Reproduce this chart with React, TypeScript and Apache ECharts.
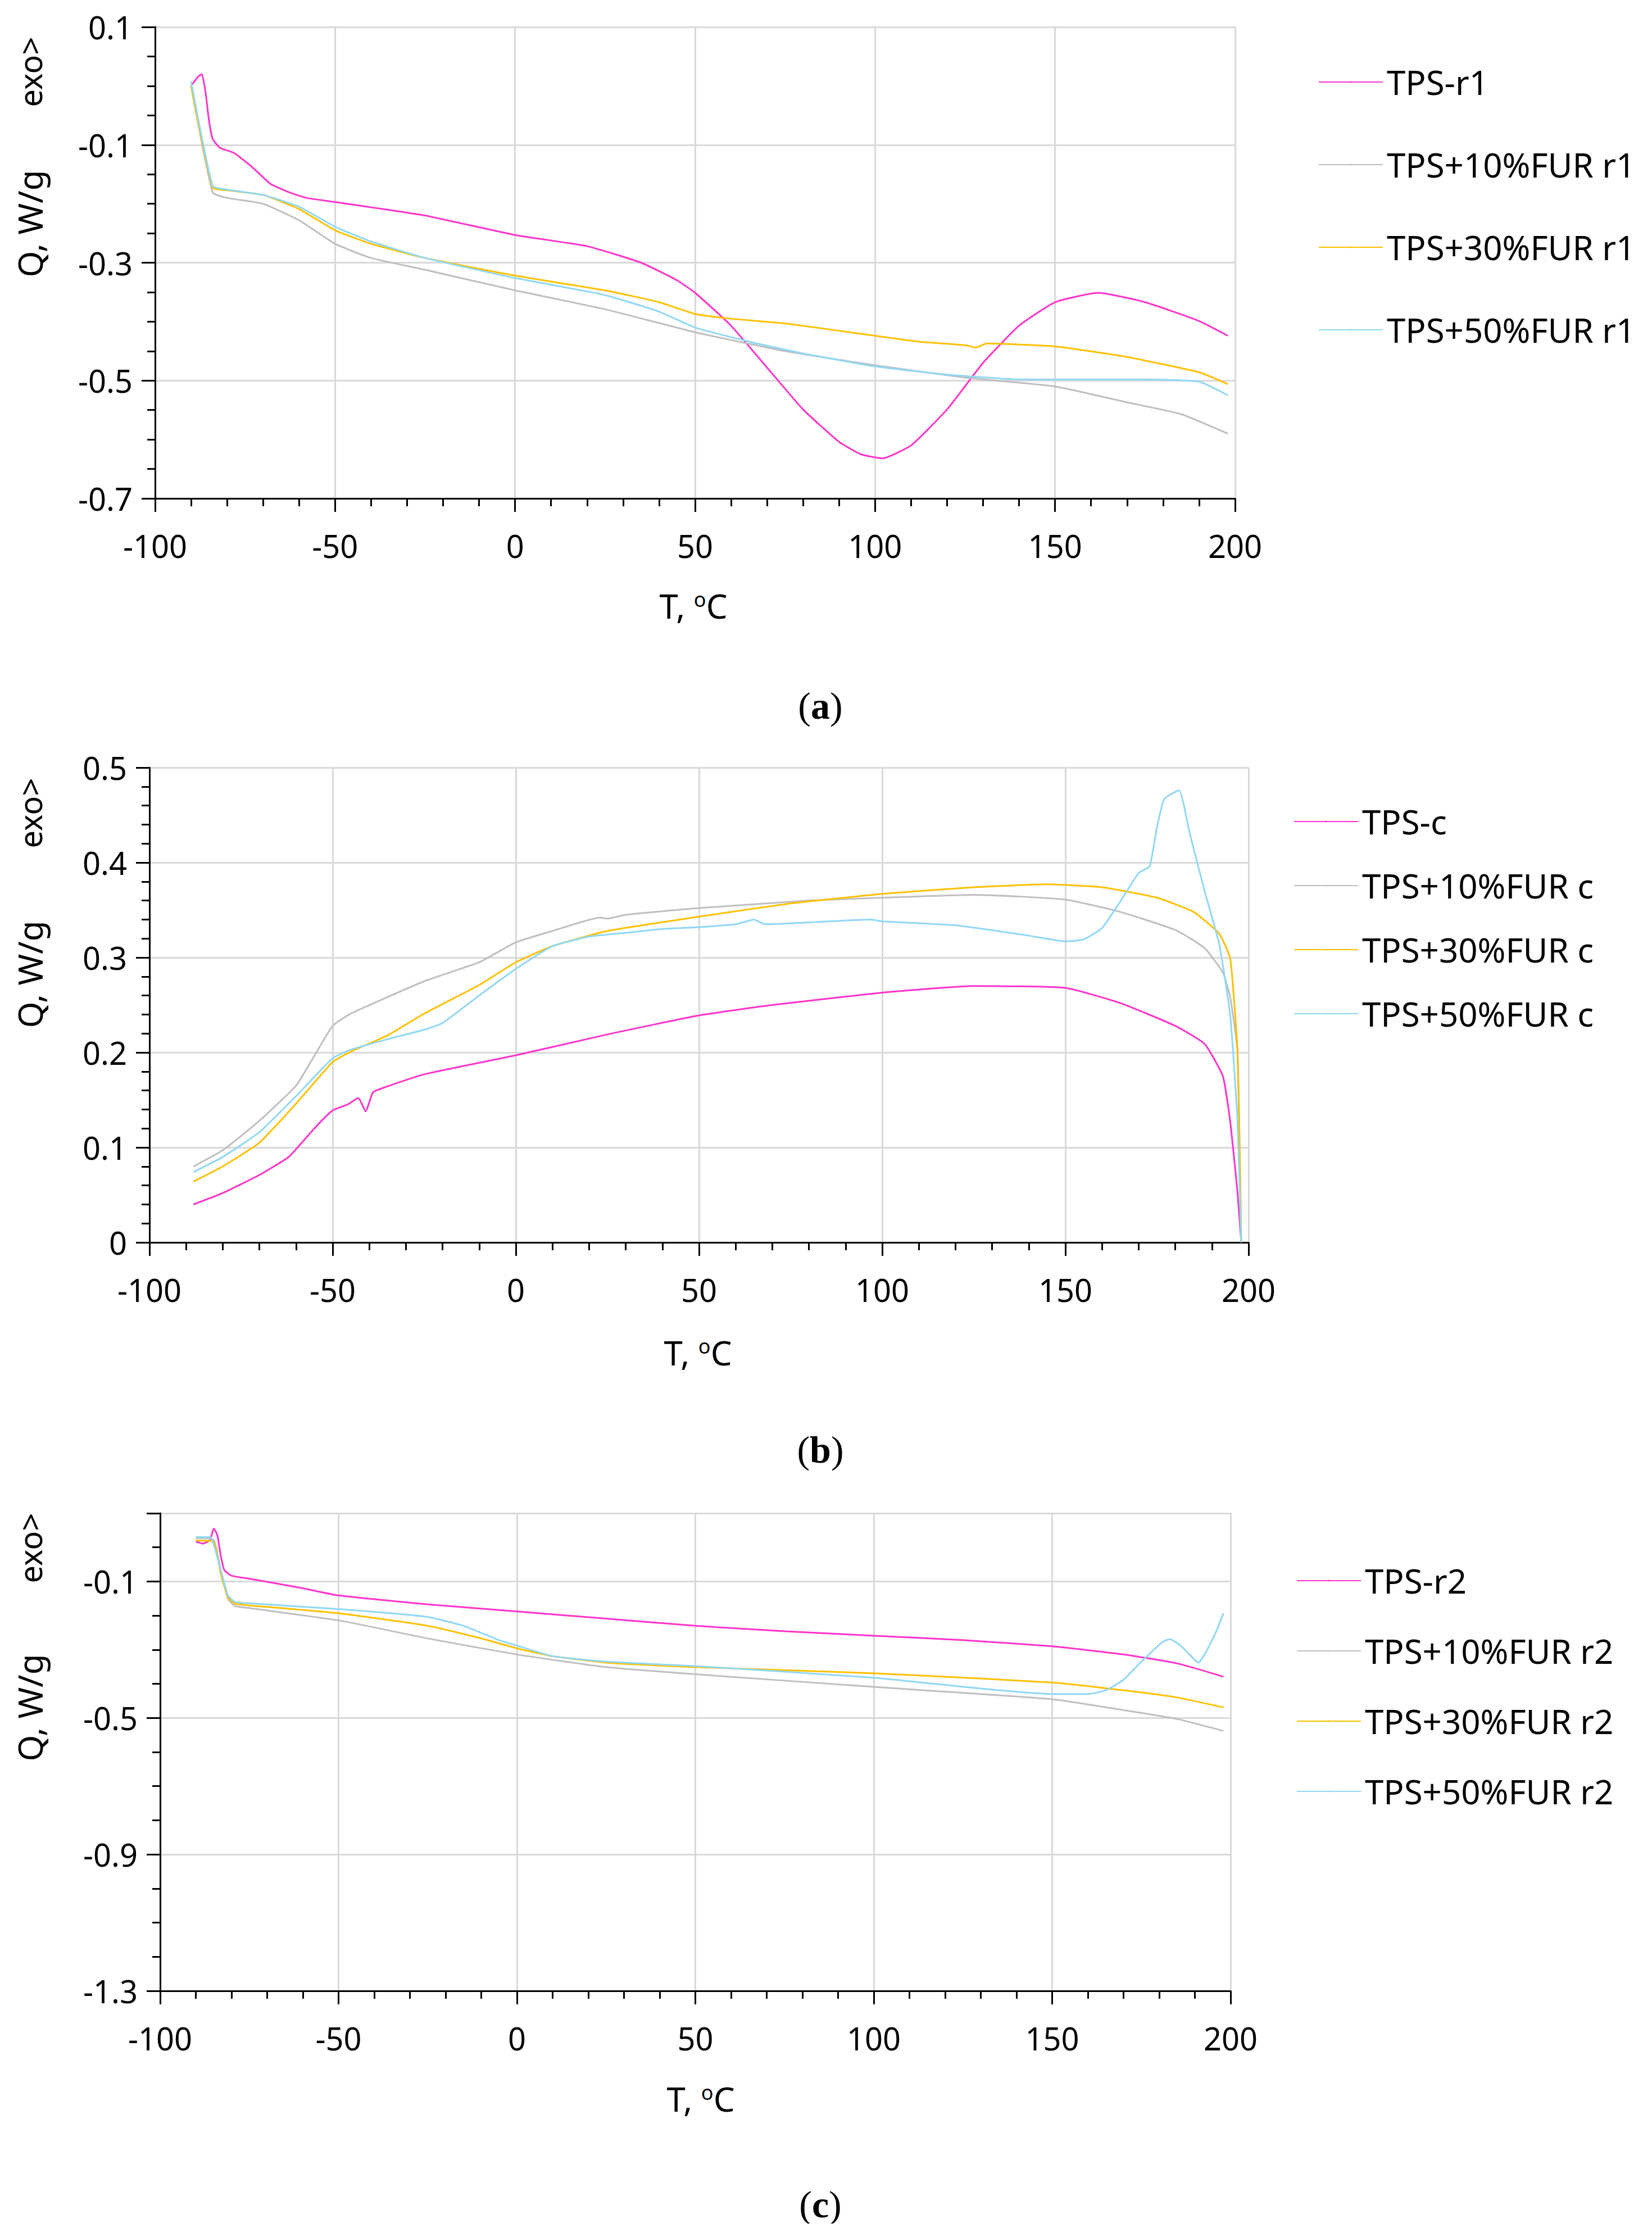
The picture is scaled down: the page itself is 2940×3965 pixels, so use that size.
import React, { useEffect, useRef } from "react";
import * as echarts from "echarts";

type Pt = [number, number];

// colours of the four samples
const COLORS = ["#ff33cc", "#bfbfbf", "#ffc000", "#8fd8f5"];

// (a) first heating
const namesA = ["TPS-r1", "TPS+10%FUR r1", "TPS+30%FUR r1", "TPS+50%FUR r1"];
const tpsR1: Pt[] = [[-90, 0.0], [-88, 0.016], [-87, 0.02], [-86, -0.01], [-85, -0.06], [-84, -0.09], [-82, -0.105], [-78, -0.114], [-73, -0.138], [-68, -0.166], [-63, -0.18], [-58, -0.19], [-50, -0.197], [-25, -0.22], [0, -0.253], [20, -0.272], [35, -0.3], [45, -0.33], [50, -0.351], [60, -0.407], [70, -0.478], [80, -0.549], [90, -0.604], [96, -0.625], [102, -0.632], [110, -0.61], [120, -0.549], [130, -0.47], [140, -0.407], [150, -0.367], [162, -0.351], [175, -0.367], [190, -0.399], [198, -0.424]];
const fur10R1: Pt[] = [[-90, 0.0], [-84, -0.181], [-80, -0.19], [-70, -0.2], [-60, -0.228], [-50, -0.268], [-40, -0.292], [-25, -0.312], [0, -0.347], [25, -0.379], [50, -0.418], [75, -0.45], [100, -0.474], [125, -0.495], [150, -0.51], [170, -0.537], [185, -0.557], [198, -0.59]];
const fur30R1: Pt[] = [[-90, 0.0], [-84, -0.173], [-80, -0.177], [-70, -0.185], [-60, -0.209], [-50, -0.245], [-40, -0.268], [-25, -0.292], [0, -0.322], [25, -0.347], [40, -0.367], [50, -0.387], [60, -0.395], [75, -0.403], [100, -0.424], [112, -0.434], [125, -0.44], [128, -0.444], [131, -0.437], [150, -0.442], [170, -0.46], [190, -0.486], [198, -0.506]];
const fur50R1: Pt[] = [[-90, 0.008], [-84, -0.17], [-80, -0.176], [-70, -0.185], [-60, -0.205], [-50, -0.239], [-40, -0.264], [-25, -0.292], [0, -0.326], [25, -0.355], [40, -0.383], [50, -0.41], [65, -0.434], [80, -0.454], [100, -0.476], [120, -0.49], [140, -0.498], [160, -0.498], [175, -0.498], [190, -0.502], [198, -0.525]];

// (b) cooling
const namesB = ["TPS-c", "TPS+10%FUR c", "TPS+30%FUR c", "TPS+50%FUR c"];
const tpsC: Pt[] = [[-88, 0.04], [-80, 0.052], [-70, 0.071], [-62, 0.09], [-55, 0.12], [-50, 0.139], [-46, 0.145], [-43, 0.152], [-41, 0.138], [-39, 0.158], [-36, 0.163], [-25, 0.177], [0, 0.197], [25, 0.219], [50, 0.239], [70, 0.25], [100, 0.263], [125, 0.27], [150, 0.268], [165, 0.252], [180, 0.228], [188, 0.209], [193, 0.175], [195, 0.127], [197, 0.052], [198, 0]];
const fur10C: Pt[] = [[-88, 0.08], [-80, 0.097], [-70, 0.128], [-60, 0.165], [-54, 0.203], [-50, 0.228], [-45, 0.241], [-25, 0.275], [-10, 0.295], [0, 0.316], [10, 0.328], [23, 0.342], [25, 0.341], [30, 0.345], [50, 0.352], [80, 0.36], [100, 0.363], [125, 0.366], [150, 0.361], [165, 0.348], [180, 0.329], [188, 0.31], [193, 0.284], [195, 0.258], [197, 0.2], [198, 0]];
const fur30C: Pt[] = [[-88, 0.064], [-80, 0.08], [-70, 0.105], [-60, 0.146], [-50, 0.19], [-45, 0.201], [-35, 0.218], [-25, 0.241], [-10, 0.271], [0, 0.295], [10, 0.312], [25, 0.328], [50, 0.343], [75, 0.357], [100, 0.367], [125, 0.374], [145, 0.377], [160, 0.374], [175, 0.363], [185, 0.348], [192, 0.325], [195, 0.299], [197, 0.2], [198, 0]];
const fur50C: Pt[] = [[-88, 0.074], [-80, 0.09], [-70, 0.116], [-60, 0.154], [-50, 0.194], [-45, 0.203], [-35, 0.214], [-25, 0.224], [-20, 0.231], [-10, 0.26], [0, 0.288], [10, 0.312], [20, 0.322], [30, 0.326], [40, 0.33], [50, 0.332], [60, 0.335], [65, 0.34], [68, 0.335], [80, 0.337], [97, 0.34], [100, 0.338], [120, 0.334], [140, 0.323], [150, 0.317], [155, 0.319], [160, 0.331], [165, 0.359], [170, 0.389], [173, 0.396], [175, 0.437], [177, 0.467], [181, 0.476], [184, 0.43], [188, 0.37], [192, 0.314], [195, 0.239], [197, 0.127], [198, 0]];

// (c) second heating
const namesC = ["TPS-r2", "TPS+10%FUR r2", "TPS+30%FUR r2", "TPS+50%FUR r2"];
const tpsR2: Pt[] = [[-90, 0.017], [-88, 0.011], [-86, 0.022], [-85, 0.055], [-84, 0.037], [-83, -0.025], [-82, -0.067], [-80, -0.083], [-75, -0.092], [-70, -0.101], [-60, -0.12], [-50, -0.141], [-25, -0.167], [0, -0.188], [25, -0.209], [50, -0.23], [75, -0.246], [100, -0.259], [125, -0.272], [150, -0.29], [170, -0.314], [185, -0.34], [198, -0.379]];
const fur10R2: Pt[] = [[-90, 0.027], [-85, 0.022], [-83, -0.067], [-81, -0.151], [-79, -0.172], [-75, -0.178], [-50, -0.214], [-25, -0.267], [0, -0.314], [25, -0.351], [50, -0.372], [100, -0.409], [150, -0.445], [170, -0.477], [185, -0.503], [198, -0.538]];
const fur30R2: Pt[] = [[-90, 0.02], [-85, 0.017], [-83, -0.078], [-81, -0.146], [-79, -0.165], [-75, -0.17], [-50, -0.193], [-25, -0.23], [-10, -0.267], [0, -0.296], [10, -0.319], [25, -0.338], [50, -0.351], [100, -0.369], [150, -0.396], [170, -0.419], [185, -0.44], [198, -0.469]];
const fur50R2: Pt[] = [[-90, 0.03], [-86, 0.03], [-83, -0.067], [-81, -0.141], [-79, -0.16], [-75, -0.164], [-50, -0.181], [-25, -0.204], [-15, -0.23], [-5, -0.272], [0, -0.288], [10, -0.319], [25, -0.335], [50, -0.348], [100, -0.382], [130, -0.414], [150, -0.43], [160, -0.43], [165, -0.419], [170, -0.388], [175, -0.335], [181, -0.277], [183, -0.269], [186, -0.288], [190, -0.33], [191, -0.338], [193, -0.309], [196, -0.246], [198, -0.193]];

const FONT = "'Liberation Sans Narrow', 'Noto Sans', sans-serif";

const App = () => {
  const chartRef = useRef<HTMLDivElement>(null);

  useEffect(() => {
    const chart = echarts.init(chartRef.current, null, { renderer: "svg" });

    const grids = [
      { left: 268, top: 40, width: 1922, height: 839 },
      { left: 258, top: 1358, width: 1956, height: 845 },
      { left: 277, top: 2685, width: 1905, height: 850 },
    ];
    const yAxes = [
      { min: -0.7, max: 0.1, interval: 0.2, split: 4 },
      { min: 0, max: 0.5, interval: 0.1, split: 5 },
      { min: -1.3, max: 0.1, interval: 0.4, split: 4 },
    ];
    const panels = [
      { names: namesA, data: [tpsR1, fur10R1, fur30R1, fur50R1] },
      { names: namesB, data: [tpsC, fur10C, fur30C, fur50C] },
      { names: namesC, data: [tpsR2, fur10R2, fur30R2, fur50R2] },
    ];
    const legendPos = [
      { left: 2333, top: 102, gap: 147 },
      { left: 2289, top: 1418, gap: 114 },
      { left: 2294, top: 2769, gap: 125 },
    ];
    const qY = [390, 1726, 3031];
    const exoY = [120, 1439, 2747];
    const tPos = [[1226, 1070], [1234, 2399], [1239, 3727]];
    const capY = [1248, 2572, 3915];
    const capL = ["a", "b", "c"];

    const axisLine = { lineStyle: { color: "#000", width: 3 }, onZero: false };
    const splitLine = { show: true, lineStyle: { color: "#d9d9d9", width: 3 } };

    const series: any[] = [];
    panels.forEach((p, gi) => {
      p.data.forEach((d, si) => {
        series.push({
          type: "line",
          name: p.names[si],
          xAxisIndex: gi,
          yAxisIndex: gi,
          data: d,
          symbol: "none",
          smooth: 0.15,
          lineStyle: { color: COLORS[si], width: 3 },
          itemStyle: { color: COLORS[si] },
        });
      });
    });

    const graphic: any[] = [];
    [0, 1, 2].forEach((i) => {
      graphic.push({
        type: "text", x: 45, y: qY[i], rotation: Math.PI / 2,
        style: { text: "Q, W/g", font: `60px ${FONT}`, fill: "#000", align: "center", verticalAlign: "middle" },
      });
      graphic.push({
        type: "text", x: 45, y: exoY[i], rotation: Math.PI / 2,
        style: { text: "exo>", font: `56px ${FONT}`, fill: "#000", align: "center", verticalAlign: "middle" },
      });
      graphic.push({
        type: "text", x: tPos[i][0], y: tPos[i][1],
        style: {
          text: "T, {s|o}C",
          rich: { s: { fontSize: 36, verticalAlign: "top", lineHeight: 44, fontFamily: FONT } },
          font: `60px ${FONT}`, fill: "#000", align: "center", verticalAlign: "middle",
        },
      });
      graphic.push({
        type: "text", x: 1452, y: capY[i],
        style: {
          text: `({b|${capL[i]}})`,
          rich: { b: { fontWeight: "bold", fontSize: 68, fontFamily: "'Liberation Serif', serif" } },
          font: "68px 'Liberation Serif', serif", fill: "#000", align: "center", verticalAlign: "middle",
        },
      });
    });

    chart.setOption({
      animation: false,
      backgroundColor: "#fff",
      grid: grids,
      legend: panels.map((p, i) => ({
        data: p.names,
        orient: "vertical",
        left: legendPos[i].left,
        top: legendPos[i].top,
        itemWidth: 114,
        itemHeight: 4,
        itemGap: legendPos[i].gap - 62,
        textStyle: { fontSize: 60, lineHeight: 62, fontFamily: FONT, color: "#000", padding: [0, 0, 0, 2] },
      })),
      xAxis: grids.map((_, i) => ({
        type: "value",
        gridIndex: i,
        min: -100,
        max: 200,
        interval: 50,
        axisLine,
        axisTick: { show: true, length: 24, lineStyle: { color: "#000", width: 3 } },
        minorTick: { show: true, splitNumber: 5, length: 14, lineStyle: { color: "#000", width: 3 } },
        splitLine,
        axisLabel: { fontSize: 56, fontFamily: FONT, color: "#000", margin: 56 },
      })),
      yAxis: yAxes.map((y, i) => ({
        type: "value",
        gridIndex: i,
        min: y.min,
        max: y.max,
        interval: y.interval,
        axisLine,
        axisTick: { show: true, length: 24, lineStyle: { color: "#000", width: 3 } },
        minorTick: { show: true, splitNumber: y.split, length: 14, lineStyle: { color: "#000", width: 3 } },
        splitLine,
        axisLabel: {
          fontSize: 56, fontFamily: FONT, color: "#000", margin: 40,
          showMaxLabel: i !== 2,
          formatter: (v: number) => String(Math.round(v * 10) / 10),
        },
      })),
      series,
      graphic,
    });

    return () => {
      chart.dispose();
    };
  }, []);

  return <div ref={chartRef} style={{ width: "2924px", height: "3949px" }}></div>;
};

export default App;
